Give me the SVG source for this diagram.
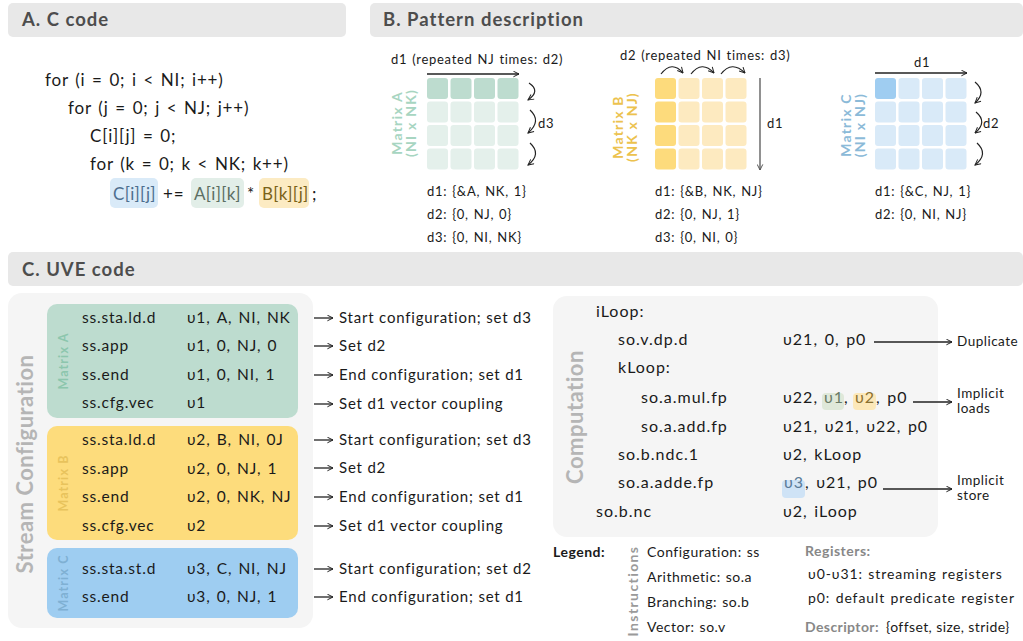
<svg xmlns="http://www.w3.org/2000/svg" width="1023" height="641" viewBox="0 0 1023 641">
  <style>
    text { font-family: Lato, "Noto Sans", "DejaVu Sans", sans-serif; fill: #1a1a1a; }
    .hdr { font-size: 18.5px; font-weight: 700; fill: #4d4d4d; letter-spacing: 1px; }
    .hbar { fill: #e8e8e8; }
    .code { font-size: 17px; letter-spacing: 0.8px; word-spacing: 1.5px; }
    .hl { letter-spacing: 0.3px; }
    .cfg { font-size: 15.5px; letter-spacing: 0.8px; word-spacing: 1.5px; }
    .comp { font-size: 16px; letter-spacing: 1px; word-spacing: 1.5px; }
    .note { font-size: 15px; letter-spacing: 0.8px; }
    .desc { font-size: 13px; letter-spacing: 0.7px; word-spacing: 1px; }
    .small { font-size: 13.5px; letter-spacing: 0.5px; }
    .leg { font-size: 14px; letter-spacing: 0.5px; word-spacing: 1px; }
    .reg { font-size: 14px; letter-spacing: 0.9px; word-spacing: 1px; }
    .panel { fill: #f5f5f5; }
    .side { font-size: 22px; font-weight: 700; fill: #b5b5b5; letter-spacing: 0.5px; }
    .mlab { font-size: 14px; font-weight: 700; letter-spacing: 1.2px; }
    .mlab2 { font-size: 12.5px; font-weight: 700; letter-spacing: 1.1px; }
    .arr { fill: none; stroke: #222; stroke-width: 1.3; }
    .curve { fill: none; stroke: #222; stroke-width: 1.2; }
  </style>
  <defs>
    <marker id="head" viewBox="0 0 10 10" refX="9" refY="5" markerWidth="7" markerHeight="7" orient="auto" markerUnits="userSpaceOnUse">
      <path d="M1,1 L9,5 L1,9" fill="none" stroke="#222" stroke-width="1.4"/>
    </marker>
    <marker id="headg" viewBox="0 0 10 10" refX="9" refY="5" markerWidth="7" markerHeight="7" orient="auto" markerUnits="userSpaceOnUse">
      <path d="M1,1 L9,5 L1,9" fill="none" stroke="#555" stroke-width="1.4"/>
    </marker>
  </defs>

  <!-- section header bars -->
  <g id="headers">
    <rect class="hbar" x="8" y="3" width="338" height="34" rx="5"/>
    <text class="hdr" x="22" y="26">A. C code</text>
    <rect class="hbar" x="370" y="3" width="653" height="34" rx="5"/>
    <text class="hdr" x="383" y="26">B. Pattern description</text>
    <rect class="hbar" x="8" y="252" width="1015" height="34" rx="5"/>
    <text class="hdr" x="22" y="276">C. UVE code</text>
  </g>

  <!-- A: C source -->
  <g id="c-code">
    <text class="code" x="45" y="86">for (i = 0; i &lt; NI; i++)</text>
    <text class="code" x="68" y="114">for (j = 0; j &lt; NJ; j++)</text>
    <text class="code" x="90" y="142">C[i][j] = 0;</text>
    <text class="code" x="90" y="170">for (k = 0; k &lt; NK; k++)</text>
    <rect x="110" y="178" width="48" height="30" rx="5" fill="#d9eaf8"/>
    <rect x="191" y="178" width="53" height="30" rx="5" fill="#e2eee8"/>
    <rect x="259" y="178" width="50" height="30" rx="5" fill="#fcebc3"/>
    <text class="code hl" x="113" y="200" style="fill:#4d6f8f">C[i][j]</text>
    <text class="code" x="163" y="200">+=</text>
    <text class="code hl" x="194" y="200" style="fill:#5c6e63">A[i][k]</text>
    <text class="code" x="247" y="200">*</text>
    <text class="code hl" x="262" y="200" style="fill:#7a6218">B[k][j]</text>
    <text class="code" x="312" y="200">;</text>
  </g>

  <!-- B: matrix A pattern -->
  <g id="pattern-a">
    <text class="desc" x="391" y="64">d1 (repeated NJ times: d2)</text>
    <g fill="#bddccf">
      <rect x="427" y="78" width="21" height="21" rx="3"/>
      <rect x="450.5" y="78" width="21" height="21" rx="3"/>
      <rect x="474" y="78" width="21" height="21" rx="3"/>
      <rect x="497.5" y="78" width="21" height="21" rx="3"/>
    </g>
    <g fill="#e4f0eb">
      <rect x="427" y="101.5" width="21" height="21" rx="3"/>
      <rect x="450.5" y="101.5" width="21" height="21" rx="3"/>
      <rect x="474" y="101.5" width="21" height="21" rx="3"/>
      <rect x="497.5" y="101.5" width="21" height="21" rx="3"/>
      <rect x="427" y="125" width="21" height="21" rx="3"/>
      <rect x="450.5" y="125" width="21" height="21" rx="3"/>
      <rect x="474" y="125" width="21" height="21" rx="3"/>
      <rect x="497.5" y="125" width="21" height="21" rx="3"/>
      <rect x="427" y="148.5" width="21" height="21" rx="3"/>
      <rect x="450.5" y="148.5" width="21" height="21" rx="3"/>
      <rect x="474" y="148.5" width="21" height="21" rx="3"/>
      <rect x="497.5" y="148.5" width="21" height="21" rx="3"/>
    </g>
    <text class="mlab" transform="translate(402,123) rotate(-90)" text-anchor="middle" style="fill:#a7d5c1">Matrix A</text>
    <text class="mlab" transform="translate(416,123) rotate(-90)" text-anchor="middle" style="fill:#a7d5c1">(NI x NK)</text>
    <text class="desc" x="538" y="128">d3</text>
    <text class="desc" x="427" y="196">d1: {&amp;A, NK, 1}</text>
    <text class="desc" x="427" y="219">d2: {0, NJ, 0}</text>
    <text class="desc" x="427" y="242">d3: {0, NI, NK}</text>
  </g>

  <!-- B: matrix B pattern -->
  <g id="pattern-b">
    <text class="desc" x="620" y="60">d2 (repeated NI times: d3)</text>
    <g fill="#fddb7c">
      <rect x="655" y="78" width="21" height="21" rx="3"/>
      <rect x="655" y="101.5" width="21" height="21" rx="3"/>
      <rect x="655" y="125" width="21" height="21" rx="3"/>
      <rect x="655" y="148.5" width="21" height="21" rx="3"/>
    </g>
    <g fill="#fdeac0">
      <rect x="678.5" y="78" width="21" height="21" rx="3"/>
      <rect x="702" y="78" width="21" height="21" rx="3"/>
      <rect x="725.5" y="78" width="21" height="21" rx="3"/>
      <rect x="678.5" y="101.5" width="21" height="21" rx="3"/>
      <rect x="702" y="101.5" width="21" height="21" rx="3"/>
      <rect x="725.5" y="101.5" width="21" height="21" rx="3"/>
      <rect x="678.5" y="125" width="21" height="21" rx="3"/>
      <rect x="702" y="125" width="21" height="21" rx="3"/>
      <rect x="725.5" y="125" width="21" height="21" rx="3"/>
      <rect x="678.5" y="148.5" width="21" height="21" rx="3"/>
      <rect x="702" y="148.5" width="21" height="21" rx="3"/>
      <rect x="725.5" y="148.5" width="21" height="21" rx="3"/>
    </g>
    <text class="mlab" transform="translate(623,127) rotate(-90)" text-anchor="middle" style="fill:#ecc24e">Matrix B</text>
    <text class="mlab" transform="translate(637,127) rotate(-90)" text-anchor="middle" style="fill:#ecc24e">(NK x NJ)</text>
    <text class="desc" x="767" y="128">d1</text>
    <text class="desc" x="655" y="196">d1: {&amp;B, NK, NJ}</text>
    <text class="desc" x="655" y="219">d2: {0, NJ, 1}</text>
    <text class="desc" x="655" y="242">d3: {0, NI, 0}</text>
  </g>

  <!-- B: matrix C pattern -->
  <g id="pattern-c">
    <text class="desc" x="914" y="67">d1</text>
    <g fill="#d9eaf8">
      <rect x="898.5" y="78" width="21" height="21" rx="3"/>
      <rect x="922" y="78" width="21" height="21" rx="3"/>
      <rect x="945.5" y="78" width="21" height="21" rx="3"/>
      <rect x="875" y="101.5" width="21" height="21" rx="3"/>
      <rect x="898.5" y="101.5" width="21" height="21" rx="3"/>
      <rect x="922" y="101.5" width="21" height="21" rx="3"/>
      <rect x="945.5" y="101.5" width="21" height="21" rx="3"/>
      <rect x="875" y="125" width="21" height="21" rx="3"/>
      <rect x="898.5" y="125" width="21" height="21" rx="3"/>
      <rect x="922" y="125" width="21" height="21" rx="3"/>
      <rect x="945.5" y="125" width="21" height="21" rx="3"/>
      <rect x="875" y="148.5" width="21" height="21" rx="3"/>
      <rect x="898.5" y="148.5" width="21" height="21" rx="3"/>
      <rect x="922" y="148.5" width="21" height="21" rx="3"/>
      <rect x="945.5" y="148.5" width="21" height="21" rx="3"/>
    </g>
    <rect x="875" y="78" width="21" height="21" rx="3" fill="#9fcdf1"/>
    <text class="mlab" transform="translate(851,125) rotate(-90)" text-anchor="middle" style="fill:#8bbad8">Matrix C</text>
    <text class="mlab" transform="translate(865,125) rotate(-90)" text-anchor="middle" style="fill:#8bbad8">(NI x NJ)</text>
    <text class="desc" x="983" y="128">d2</text>
    <text class="desc" x="875" y="196">d1: {&amp;C, NJ, 1}</text>
    <text class="desc" x="875" y="219">d2: {0, NI, NJ}</text>
  </g>

  <!-- C: stream configuration panel -->
  <g id="stream-config">
    <rect class="panel" x="8" y="293" width="305" height="335" rx="14"/>
    <text class="side" transform="translate(33,464) rotate(-90)" text-anchor="middle">Stream Configuration</text>

    <g id="cfg-matrix-a">
      <rect x="47" y="304" width="251" height="114" rx="10" fill="#bddccf"/>
      <text class="mlab2" transform="translate(68,361) rotate(-90)" text-anchor="middle" style="fill:#8cc6ad">Matrix A</text>
      <text class="cfg" x="82" y="323">ss.sta.ld.d</text>
      <text class="cfg" x="187" y="323">υ1, A, NI, NK</text>
      <text class="cfg" x="82" y="351">ss.app</text>
      <text class="cfg" x="187" y="351">υ1, 0, NJ, 0</text>
      <text class="cfg" x="82" y="380">ss.end</text>
      <text class="cfg" x="187" y="380">υ1, 0, NI, 1</text>
      <text class="cfg" x="82" y="408">ss.cfg.vec</text>
      <text class="cfg" x="187" y="408">υ1</text>
    </g>

    <g id="cfg-matrix-b">
      <rect x="47" y="426" width="251" height="114" rx="10" fill="#fddc7c"/>
      <text class="mlab2" transform="translate(68,483) rotate(-90)" text-anchor="middle" style="fill:#e8c35c">Matrix B</text>
      <text class="cfg" x="82" y="445">ss.sta.ld.d</text>
      <text class="cfg" x="187" y="445">υ2, B, NI, 0J</text>
      <text class="cfg" x="82" y="474">ss.app</text>
      <text class="cfg" x="187" y="474">υ2, 0, NJ, 1</text>
      <text class="cfg" x="82" y="502">ss.end</text>
      <text class="cfg" x="187" y="502">υ2, 0, NK, NJ</text>
      <text class="cfg" x="82" y="531">ss.cfg.vec</text>
      <text class="cfg" x="187" y="531">υ2</text>
    </g>

    <g id="cfg-matrix-c">
      <rect x="47" y="548" width="251" height="70" rx="10" fill="#9ecdf1"/>
      <text class="mlab2" transform="translate(68,583) rotate(-90)" text-anchor="middle" style="fill:#7fb0d3">Matrix C</text>
      <text class="cfg" x="82" y="574">ss.sta.st.d</text>
      <text class="cfg" x="187" y="574">υ3, C, NI, NJ</text>
      <text class="cfg" x="82" y="602">ss.end</text>
      <text class="cfg" x="187" y="602">υ3, 0, NJ, 1</text>
    </g>
  </g>

  <!-- annotations for configuration instructions -->
  <g id="cfg-notes">
    <text class="note" x="339" y="323">Start configuration; set d3</text>
    <text class="note" x="339" y="351">Set d2</text>
    <text class="note" x="339" y="380">End configuration; set d1</text>
    <text class="note" x="339" y="409">Set d1 vector coupling</text>
    <text class="note" x="339" y="445">Start configuration; set d3</text>
    <text class="note" x="339" y="473">Set d2</text>
    <text class="note" x="339" y="502">End configuration; set d1</text>
    <text class="note" x="339" y="531">Set d1 vector coupling</text>
    <text class="note" x="339" y="574">Start configuration; set d2</text>
    <text class="note" x="339" y="602">End configuration; set d1</text>
  </g>

  <!-- C: computation panel -->
  <g id="computation">
    <rect class="panel" x="553" y="296" width="385" height="241" rx="14"/>
    <text class="side" transform="translate(583,417) rotate(-90)" text-anchor="middle">Computation</text>
    <rect x="822" y="393" width="22" height="17" rx="4" fill="#dfe8d9"/>
    <rect x="853" y="393" width="23" height="17" rx="4" fill="#fce8b9"/>
    <rect x="782" y="480" width="23" height="18" rx="4" fill="#cfe3f6"/>
    <text class="comp" x="596" y="317">iLoop:</text>
    <text class="comp" x="618" y="345">so.v.dp.d</text>
    <text class="comp" x="783" y="345">υ21, 0, p0</text>
    <text class="comp" x="618" y="373">kLoop:</text>
    <text class="comp" x="641" y="403">so.a.mul.fp</text>
    <text class="comp" x="783" y="403">υ22,</text>
    <text class="comp" x="824" y="403" style="fill:#6a7a66">υ1</text>
    <text class="comp" x="844" y="403">,</text>
    <text class="comp" x="855" y="403" style="fill:#8a7030">υ2</text>
    <text class="comp" x="876" y="403">, p0</text>
    <text class="comp" x="641" y="432">so.a.add.fp</text>
    <text class="comp" x="783" y="432">υ21, υ21, υ22, p0</text>
    <text class="comp" x="618" y="460">so.b.ndc.1</text>
    <text class="comp" x="783" y="460">υ2, kLoop</text>
    <text class="comp" x="618" y="488">so.a.adde.fp</text>
    <text class="comp" x="784" y="488" style="fill:#5a7a98">υ3</text>
    <text class="comp" x="805" y="488">, υ21, p0</text>
    <text class="comp" x="596" y="517">so.b.nc</text>
    <text class="comp" x="783" y="517">υ2, iLoop</text>
  </g>

  <g id="comp-notes">
    <text class="small" x="957" y="346">Duplicate</text>
    <text class="small" x="957" y="398">Implicit</text>
    <text class="small" x="957" y="413">loads</text>
    <text class="small" x="957" y="485">Implicit</text>
    <text class="small" x="957" y="500">store</text>
  </g>

  <!-- legend -->
  <g id="legend">
    <text class="leg" x="553" y="557" style="font-weight:700">Legend:</text>
    <text class="leg" transform="translate(638,591) rotate(-90)" text-anchor="middle" style="font-weight:700;fill:#9a9a9a;letter-spacing:1.4px">Instructions</text>
    <text class="leg" x="647" y="557">Configuration: ss</text>
    <text class="leg" x="647" y="582">Arithmetic: so.a</text>
    <text class="leg" x="647" y="607">Branching: so.b</text>
    <text class="leg" x="647" y="632">Vector: so.v</text>
    <text class="reg" x="805" y="556" style="font-weight:700;fill:#888;letter-spacing:0.5px">Registers:</text>
    <text class="reg" x="808" y="579">υ0-υ31: streaming registers</text>
    <text class="reg" x="808" y="603">p0: default predicate register</text>
    <text class="reg" x="805" y="632" style="font-weight:700;fill:#888;letter-spacing:0.4px">Descriptor:</text>
    <text class="reg" x="886" y="632" style="letter-spacing:0.4px;word-spacing:0">{offset, size, stride}</text>
  </g>

  <!-- connectors and pattern arrows -->
  <g id="connectors">
    <!-- matrix A traversal -->
    <path class="arr" d="M427,74 H519" marker-end="url(#head)"/>
    <path class="curve" d="M529,83 Q541,91 528,100" marker-end="url(#head)"/>
    <path class="curve" d="M530,110 Q542,121 528,133" marker-end="url(#head)"/>
    <path class="curve" d="M530,143 Q542,154 528,165" marker-end="url(#head)"/>
    <!-- matrix B traversal -->
    <path class="curve" d="M661,74 Q672,60 683,73" marker-end="url(#head)"/>
    <path class="curve" d="M691,74 Q702,60 714,73" marker-end="url(#head)"/>
    <path class="curve" d="M721,74 Q732,60 745,73" marker-end="url(#head)"/>
    <path class="arr" d="M760,78 V170" style="stroke:#555" marker-end="url(#headg)"/>
    <!-- matrix C traversal -->
    <path class="arr" d="M875,73 H967" marker-end="url(#head)"/>
    <path class="curve" d="M975,82 Q987,92 975,103" marker-end="url(#head)"/>
    <path class="curve" d="M976,112 Q988,122 975,133" marker-end="url(#head)"/>
    <path class="curve" d="M977,143 Q989,154 975,165" marker-end="url(#head)"/>
    <!-- configuration notes -->
    <path class="arr" d="M314,318 H333" marker-end="url(#head)"/>
    <path class="arr" d="M314,346 H333" marker-end="url(#head)"/>
    <path class="arr" d="M314,375 H333" marker-end="url(#head)"/>
    <path class="arr" d="M314,404 H333" marker-end="url(#head)"/>
    <path class="arr" d="M314,440 H333" marker-end="url(#head)"/>
    <path class="arr" d="M314,468 H333" marker-end="url(#head)"/>
    <path class="arr" d="M314,497 H333" marker-end="url(#head)"/>
    <path class="arr" d="M314,526 H333" marker-end="url(#head)"/>
    <path class="arr" d="M314,569 H333" marker-end="url(#head)"/>
    <path class="arr" d="M314,597 H333" marker-end="url(#head)"/>
    <!-- computation notes -->
    <path class="arr" d="M874,342 H952" marker-end="url(#head)"/>
    <path class="arr" d="M913,402 H952" marker-end="url(#head)"/>
    <path class="arr" d="M883,489 H952" marker-end="url(#head)"/>
  </g>
</svg>
